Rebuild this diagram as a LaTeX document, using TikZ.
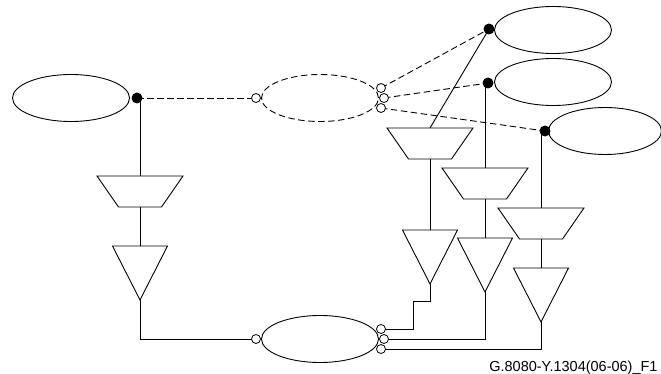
\documentclass[tikz,border=0pt]{standalone}
\usepackage{fontspec}
\setmainfont{Liberation Sans}
\usetikzlibrary{shapes.geometric}
\begin{document}
\begin{tikzpicture}[x=1pt,y=-1pt,line width=0.9pt,
  ell/.style={ellipse,draw,inner sep=0pt,minimum width=117pt,minimum height=47pt},
  dell/.style={ell,dash pattern=on 6.5pt off 3.5pt},
  dsh/.style={dash pattern=on 6.5pt off 3.5pt},
  bdot/.style={circle,fill=black,draw=black,inner sep=0pt,minimum size=10pt},
  odot/.style={circle,fill=white,draw=black,line width=0.8pt,inner sep=0pt,minimum size=9pt},
  trap/.pic={\draw (-43,0) -- (43,0) -- (21.5,31) -- (-21.5,31) -- cycle;
    \coordinate (-top) at (0,0); \coordinate (-bot) at (0,31);},
  tri/.pic={\draw (-27.5,0) -- (27.5,0) -- (0,54) -- cycle;
    \coordinate (-top) at (0,0); \coordinate (-apex) at (0,54);}
]
\useasboundingbox (0,0) rectangle (661,374);
% ellipses
\node[ell] (L) at (71,98) {};
\node[dell] (D) at (320,98) {};
\node[ell] (B) at (320,339) {};
\node[ell] (E1) at (553,30) {};
\node[ell] (E2) at (553,82) {};
\node[ell,minimum width=113pt] (E3) at (605,131) {};
% shapes
\pic (lt) at (140,176) {trap};
\pic (ltr) at (140,246) {tri};
\pic (t1) at (430,128) {trap};
\pic (r1) at (430,230) {tri};
\pic (t2) at (485,168) {trap};
\pic (r2) at (485,238) {tri};
\pic (t3) at (541,208) {trap};
\pic (r3) at (541,268) {tri};
% coordinates for ports
\coordinate (ldc) at (137,98);
\coordinate (e1c) at (489,29);
\coordinate (e2c) at (488,83);
\coordinate (e3c) at (545,131);
\coordinate (dic) at (256,98);
\coordinate (do1c) at (381,88);
\coordinate (do2c) at (384,98);
\coordinate (do3c) at (381,108);
\coordinate (bic) at (256,339);
\coordinate (bo1c) at (381,329);
\coordinate (bo2c) at (384,339);
\coordinate (bo3c) at (381,349);
% dashed connectors
\draw[dsh] (ldc) -- (dic);
\draw[dsh] (do1c) -- (e1c);
\draw[dsh] (do2c) -- (e2c);
\draw[dsh] (do3c) -- (e3c);
% solid connectors
\draw (lt-top) -- (lt-top |- ldc);
\draw (lt-bot) -- (ltr-top);
\draw (ltr-apex) |- (bic);
\draw (t1-top) -- (e1c);
\draw (t1-bot) -- (r1-top);
\draw (t2-top) -- (t2-top |- e2c);
\draw (t2-bot) -- (r2-top);
\draw (t3-top) -- (t3-top |- e3c);
\draw (t3-bot) -- (r3-top);
\coordinate (s1) at (430,301);
\coordinate (s2) at (413,301);
\draw (r1-apex) -- (s1) -- (s2) |- (bo1c);
\draw (r2-apex) |- (bo2c);
\draw (r3-apex) |- (bo3c);
% port dots
\node[bdot] (ld) at (ldc) {};
\node[bdot] (e1d) at (e1c) {};
\node[bdot] (e2d) at (e2c) {};
\node[bdot] (e3d) at (e3c) {};
\node[odot] (di) at (dic) {};
\node[odot] (do1) at (do1c) {};
\node[odot] (do3) at (do3c) {};
\node[odot] (do2) at (do2c) {};
\node[odot] (bi) at (bic) {};
\node[odot] (bo1) at (bo1c) {};
\node[odot] (bo3) at (bo3c) {};
\node[odot] (bo2) at (bo2c) {};
% label
\node[anchor=base east,inner sep=0pt,font=\fontsize{14.5}{17}\selectfont] (lbl) at (658,371) {G.8080-Y.1304(06-06)\_F1};
\end{tikzpicture}
\end{document}
